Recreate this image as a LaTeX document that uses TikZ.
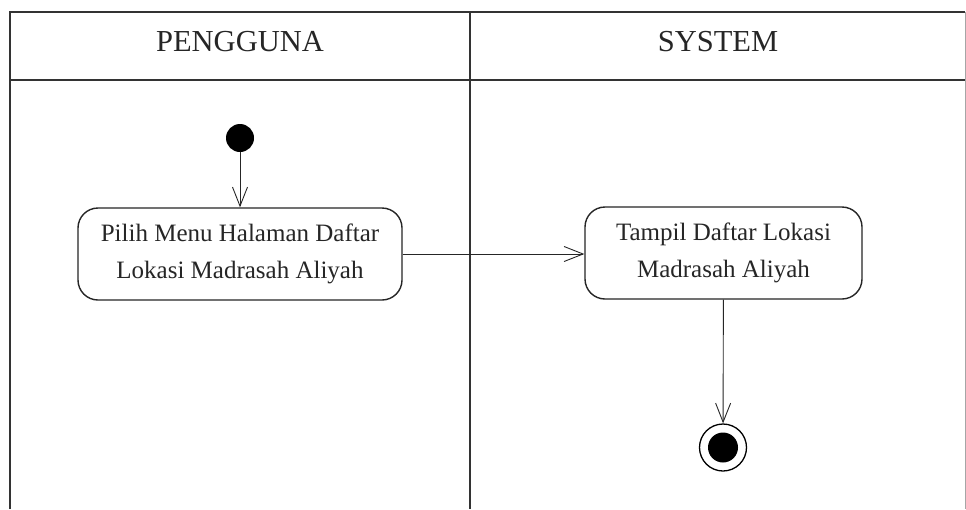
\documentclass[tikz,border=0pt]{standalone}
\usepackage{fontspec}
\setmainfont{Liberation Serif}
\usetikzlibrary{arrows.meta}
\begin{document}
\begin{tikzpicture}[x=1pt,y=-1pt,
  lane/.style={draw=black!80,line width=1.8pt},
  act/.style={draw=black!85,line width=1.4pt,rounded corners=20pt,align=center,text=black!85,font=\fontsize{25}{37}\selectfont},
  flow/.style={draw=black!85,line width=0.9pt,-{Straight Barb[length=19pt,width=15pt,line width=0.9pt]}},
  hdr/.style={font=\fontsize{30.5}{36}\selectfont,text=black!85}]
\useasboundingbox (0,0) rectangle (966,509);
\fill[white] (0,0) rectangle (966,509);
% swimlanes
\draw[lane] (10,509) -- (10,12) -- (965,12);
\draw[black!35,line width=1pt] (965,12) -- (965,509);
\draw[lane] (10,80) -- (965,80);
\draw[lane] (470,12) -- (470,509);
\node[hdr] (h1) at (240,42) {PENGGUNA};
\node[hdr] (h2) at (718,42) {SYSTEM};
% nodes
\node[circle,fill=black,minimum size=28pt,inner sep=0pt] (start) at (240,138) {};
\node[act,minimum width=324pt,minimum height=92pt] (a1) at (240,254) {Pilih Menu Halaman Daftar\\Lokasi Madrasah Aliyah};
\node[act,minimum width=277pt,minimum height=92pt] (a2) at (723.5,253) {Tampil Daftar Lokasi\\Madrasah Aliyah};
\node[circle,draw=black,line width=1.3pt,minimum size=47pt,inner sep=0pt] (end) at (723,447.5) {};
\node[circle,fill=black,minimum size=30pt,inner sep=0pt] at (end.center) {};
% flows
\draw[flow] (start) -- (a1);
\draw[flow] (a1.east) -- (a1.east -| a2.west);
\draw[flow] (a2) -- (end);
\end{tikzpicture}
\end{document}
